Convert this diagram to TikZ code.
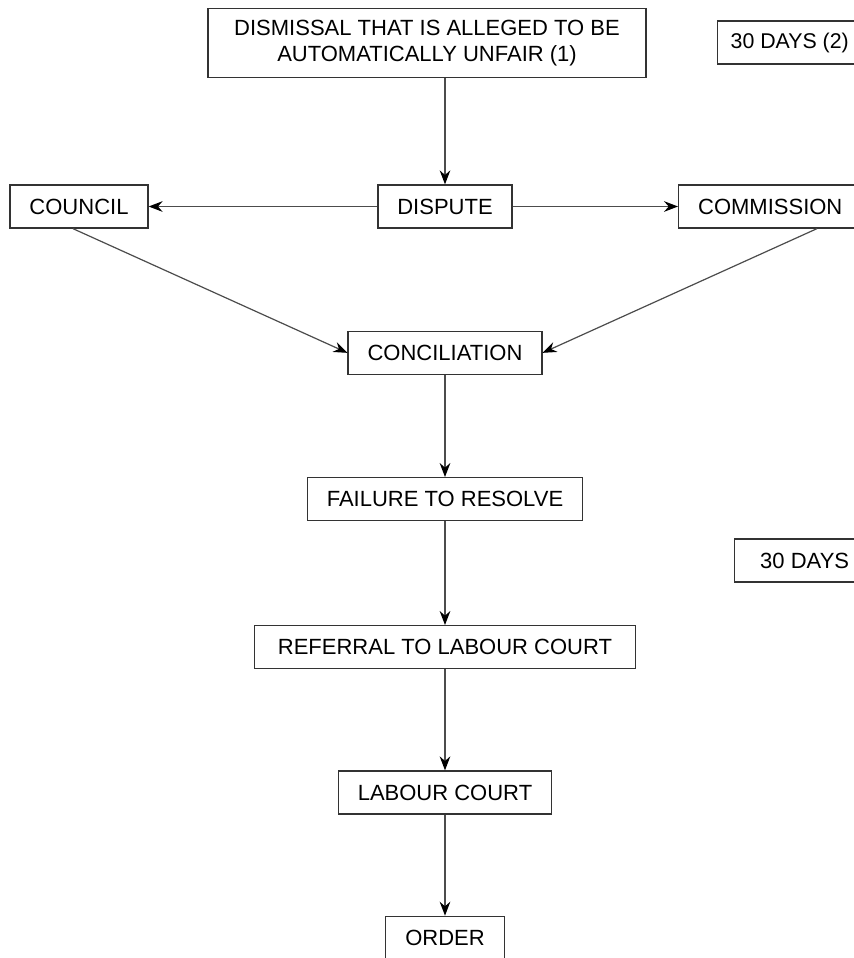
\documentclass[tikz,border=0pt]{standalone}
\usepackage{fontspec}
\setmainfont{Liberation Sans}
\usetikzlibrary{arrows.meta, positioning}

\begin{document}
\begin{tikzpicture}[x=0.75pt, y=-0.75pt]
\tikzset{box/.style={rectangle, draw=black!80, line width=1pt, align=center, inner xsep=14.6pt, minimum height=32.25pt, font=\fontsize{16.5}{20}\selectfont},
		flow/.style={-{Stealth[length=10.5pt,width=8pt,inset=3.5pt,black]}, draw=black!70, line width=0.9pt}}
\clip (0,0) rectangle (854,958);
\fill[white] (0,0) rectangle (854,958);
\node[box, minimum width=328.5pt, minimum height=51.75pt] (DAU) at (427,43) {DISMISSAL THAT IS ALLEGED TO BE\\AUTOMATICALLY UNFAIR (1)};
\node[box, anchor=west, inner xsep=9.75pt, font=\fontsize{16}{20}\selectfont] (DaysA) at (717,42.5) {30 DAYS (2)};
\node[box] (DSP) at (445,206.5) {DISPUTE};
\node[box] (CNC) at (79,206.5) {COUNCIL};
\node[box, anchor=west] (COM) at (678,206.5) {COMMISSION};
\draw[flow] (DAU.south -| DSP) -- (DSP.north);
\draw[flow] (DSP) -- (CNC);
\draw[flow] (DSP) -- (COM);
\node[box, below=76.5pt of DSP] (CON) {CONCILIATION};
\draw[flow] ([xshift=-4.5pt]CNC.south) -- (CON.west);
\draw[flow] ([xshift=35pt]COM.south) -- (CON.east);
\node[box, below=76.5pt of CON] (FTR) {FAILURE TO RESOLVE};
\draw[flow] (CON) -- (FTR);
\node[box, anchor=west, inner xsep=12.75pt, minimum width=105pt] (DaysB) at (734,560.5) {30 DAYS};
\node[box, below=77.75pt of FTR, minimum width=285.75pt] (REF) {REFERRAL TO LABOUR COURT};
\draw[flow] (FTR) -- (REF);
\node[box, below=75.75pt of REF] (LC) {LABOUR COURT};
\draw[flow] (REF) -- (LC);
\node[box, below=75.75pt of LC] (ORD) {ORDER};
\draw[flow] (LC) -- (ORD);
\end{tikzpicture}
\end{document}
